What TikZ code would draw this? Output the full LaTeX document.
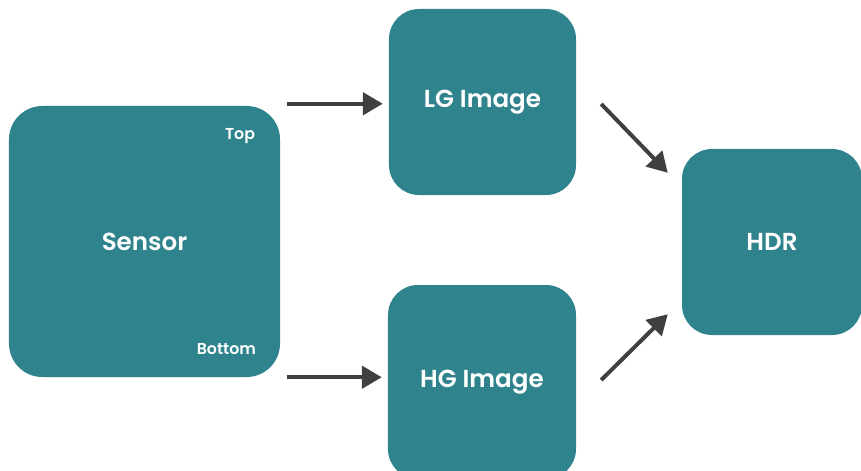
\documentclass[tikz,border=0pt]{standalone}
\usepackage{fontspec}
\setmainfont{Poppins}[BoldFont={* SemiBold}]
\usepackage{xcolor}
\usetikzlibrary{arrows.meta}
\definecolor{tealbox}{RGB}{46,131,141}
\definecolor{arrowgray}{RGB}{64,64,64}
\tikzset{
  block/.style={fill=tealbox,rounded corners=0.9cm,text=white,font=\bfseries\fontsize{21}{25}\selectfont,inner sep=0pt},
  tag/.style={text=white,font=\bfseries\fontsize{13.5}{16}\selectfont,inner sep=0pt,anchor=east},
  arr/.style={draw=arrowgray,line width=3.4pt,-{Triangle[length=17pt,width=19pt]}}
}

\begin{document}
\begin{tikzpicture}[x=0.03cm,y=-0.03cm]
    \useasboundingbox (0,0) rectangle (861,470);
    \node[block,minimum width=8.13cm,minimum height=8.13cm,rounded corners=1cm] (sensor) at (144.5,241.5) {Sensor};
    \node[block,minimum width=5.61cm,minimum height=5.58cm] (lg) at (482.5,102) {LG Image};
    \node[block,minimum width=5.64cm,minimum height=5.82cm] (hg) at (482,382) {HG Image};
    \node[block,minimum width=5.4cm,minimum height=5.58cm] (hdr) at (772,242) {HDR};
    \node[tag] (top) at ([shift={(-25,30)}]sensor.north east) {Top};
    \node[tag] (bottom) at ([shift={(-24,-28)}]sensor.south east) {Bottom};
    \draw[arr] ([shift={(7,-2)}]sensor.north east) -- ([shift={(-6,-2)}]lg.west |- sensor.north east);
    \draw[arr] ([shift={(7,0)}]sensor.south east) -- ([shift={(-6,0)}]hg.west |- sensor.south east);
    \draw[arr] ([shift={(25,2)}]lg.east) -- ([shift={(-14,24)}]hdr.north west);
    \draw[arr] ([shift={(25,-2)}]hg.east) -- ([shift={(-14,-21)}]hdr.south west);
\end{tikzpicture}
\end{document}
